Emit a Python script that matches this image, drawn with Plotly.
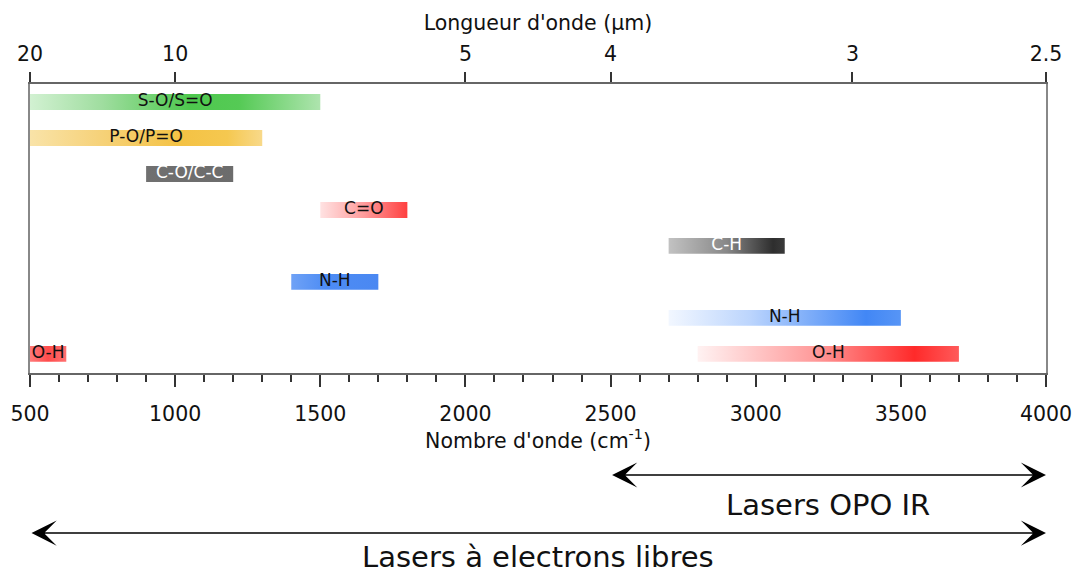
import plotly.graph_objects as go

# ---------------- data ----------------
bond_labels = ["S-O/S=O", "P-O/P=O", "C-O/C-C", "C=O", "C-H", "N-H", "N-H", "O-H", "O-H"]
range_start = [500, 500, 900, 1500, 2700, 1400, 2700, 500, 2800]   # cm-1
range_end = [1500, 1300, 1200, 1800, 3100, 1700, 3500, 625, 3700]   # cm-1
row_index = [0, 1, 2, 3, 4, 5, 6, 7, 7]
wavelength_ticks_um = [20, 10, 5, 4, 3, 2.5]
wavenumber_range = [500, 4000]
laser_names = ["Lasers OPO IR", "Lasers à electrons libres"]
laser_start = [2500, 500]
laser_end = [4000, 4000]

# ---------------- style ----------------
FONT = "DejaVu Sans"
bar_colorscales = [
    [[0, "#d2f1d2"], [0.25, "#9fdd9f"], [0.55, "#4ec84e"], [0.72, "#55ca55"], [1, "#aee4ae"]],
    [[0, "#f9e3a8"], [0.3, "#f6d27a"], [0.65, "#f4c244"], [0.85, "#f5c850"], [1, "#f8d98a"]],
    [[0, "#707070"], [1, "#6c6c6c"]],
    [[0, "#ffe2e2"], [0.5, "#ff9c9c"], [1, "#ff4040"]],
    [[0, "#c2c2c2"], [0.5, "#888888"], [0.9, "#2e2e2e"], [1, "#3a3a3a"]],
    [[0, "#6fa2f6"], [0.4, "#4d8cf4"], [1, "#4a88f2"]],
    [[0, "#f2f7ff"], [0.35, "#bcd5fd"], [0.85, "#4287f5"], [1, "#5795f6"]],
    [[0, "#ff7a7a"], [0.5, "#ff4c4c"], [1, "#ff7070"]],
    [[0, "#fff2f2"], [0.45, "#ff9a9a"], [0.83, "#ff2a2a"], [1, "#ff5a5a"]],
]
label_colors = ["#111", "#111", "#fff", "#111", "#fff", "#111", "#111", "#111", "#111"]
half_height = 0.22

fig = go.Figure()

for s, e, r, cs in zip(range_start, range_end, row_index, bar_colorscales):
    fig.add_trace(go.Scatter(
        x=[s, e, e, s, s],
        y=[r - half_height, r - half_height, r + half_height, r + half_height, r - half_height],
        mode="lines", line=dict(width=0),
        fill="toself",
        fillgradient=dict(type="horizontal", colorscale=cs),
        hoverinfo="skip", showlegend=False,
    ))

fig.add_trace(go.Scatter(
    x=[(s + e) / 2 for s, e in zip(range_start, range_end)],
    y=row_index,
    text=bond_labels,
    mode="text",
    textposition="middle center",
    textfont=dict(family=FONT, size=17, color=label_colors),
    xaxis="x2", yaxis="y",
    hoverinfo="skip", showlegend=False,
))

# laser arrows and labels
arrow_y = [-0.353, -0.554]
text_y = [-0.457, -0.636]
annotations = []
for name, s, e, ay_, ty in zip(laser_names, laser_start, laser_end, arrow_y, text_y):
    annotations.append(dict(
        x=e, y=ay_, xref="x", yref="paper",
        ax=s, ay=0, axref="x", ayref="pixel",
        text="", showarrow=True, arrowside="end+start",
        arrowhead=3, startarrowhead=3, arrowsize=2.8, startarrowsize=2.8,
        arrowwidth=1.5, arrowcolor="#000",
    ))
    annotations.append(dict(
        x=(s + e) / 2, y=ty, xref="x", yref="paper",
        text=name, showarrow=False, yanchor="middle", xanchor="center",
        font=dict(family=FONT, size=29, color="#111"),
    ))

fig.update_layout(
    width=1074, height=576,
    margin=dict(l=30, r=28, t=84, b=203),
    paper_bgcolor="white", plot_bgcolor="white",
    font=dict(family=FONT, color="#111"),
    showlegend=False, hovermode=False,
    annotations=annotations,
    xaxis=dict(
        range=wavenumber_range, tick0=500, dtick=500, automargin=False,
        ticks="outside", ticklen=12, tickwidth=1.5, tickcolor="#333",
        showline=True, linecolor="#666", linewidth=1.5,
        showgrid=False, zeroline=False, ticklabelstandoff=10,
        tickfont=dict(family=FONT, size=20.5, color="#111"),
        title=dict(text="Nombre d'onde (cm<sup>-1</sup>)", font=dict(family=FONT, size=20.5, color="#111"), standoff=4),
        minor=dict(tick0=500, dtick=100, ticks="outside", ticklen=7, tickwidth=1.5, tickcolor="#333", showgrid=False),
    ),
    xaxis2=dict(
        overlaying="x", side="top", range=wavenumber_range, automargin=False,
        tickmode="array",
        tickvals=[1e4 / w for w in wavelength_ticks_um],
        ticktext=[f"{w:g}" for w in wavelength_ticks_um],
        ticks="outside", ticklen=10, tickwidth=1.5, tickcolor="#333",
        showline=True, linecolor="#666", linewidth=1.5,
        showgrid=False, zeroline=False, ticklabelstandoff=3,
        tickfont=dict(family=FONT, size=20.5, color="#111"),
        title=dict(text="Longueur d'onde (µm)", font=dict(family=FONT, size=20.5, color="#111"), standoff=6),
    ),
    yaxis=dict(
        range=[7.53, -0.5], showticklabels=False, ticks="", automargin=False,
        showgrid=False, zeroline=False,
        showline=True, mirror=True, linecolor="#888", linewidth=2,
    ),
)

fig.write_html("out.html", config={"displayModeBar": False},
               post_script="document.body.style.margin='0';")
